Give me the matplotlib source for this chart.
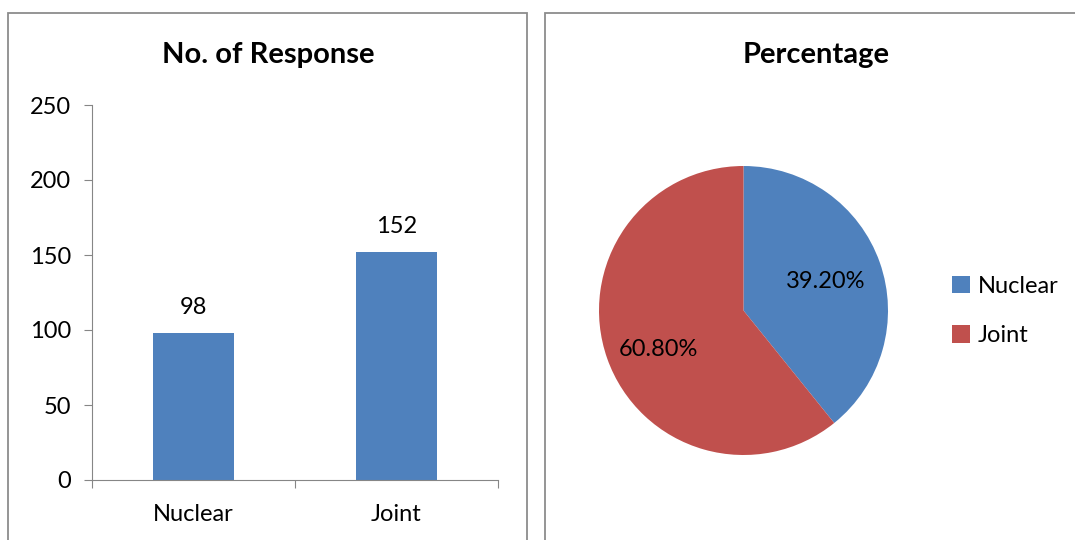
import matplotlib

matplotlib.use("Agg")
import matplotlib.pyplot as plt  # noqa: E402
from matplotlib.patches import Rectangle  # noqa: E402

plt.rcParams["font.family"] = ["Lato", "DejaVu Sans"]

categories = ["Nuclear", "Joint"]
responses = [98, 152]
percentages = [39.20, 60.80]
y_ticks = [0, 50, 100, 150, 200, 250]

BLUE = "#4F81BD"
RED = "#C0504D"
AXIS_GREY = "#868686"
FRAME_GREY = "#8C8C8C"

W, H = 1075, 540
fig = plt.figure(figsize=(W / 100, H / 100), dpi=100)


def px_box(x0, y0, x1, y1):
    """Pixel box (top-left origin) -> figure fraction [left, bottom, width, height]."""
    return [x0 / W, 1 - y1 / H, (x1 - x0) / W, (y1 - y0) / H]


# chart frames, both run past the bottom edge
for x0, x1 in [(8, 527), (545, 1090)]:
    fig.patches.append(Rectangle((x0 / W, -0.1), (x1 - x0) / W, 1.1 - 13 / H,
                                 transform=fig.transFigure, fill=False,
                                 edgecolor=FRAME_GREY, linewidth=1.3))

# bar chart
ax = fig.add_axes(px_box(92, 105, 498, 480))
x = range(len(categories))
ax.bar(x, responses, width=0.4, color=BLUE)
ax.set_xlim(-0.5, len(categories) - 0.5)
ax.set_ylim(0, 250)
ax.set_yticks(y_ticks)
ax.set_xticks([-0.5, 0.5, 1.5], minor=False)
ax.set_xticklabels([])
ax.set_xticks(list(x), minor=True)
ax.set_xticklabels(categories, minor=True)
ax.tick_params(axis="x", which="minor", length=0, pad=17, labelsize=17)
ax.tick_params(axis="x", which="major", length=6, direction="out", color=AXIS_GREY)
ax.tick_params(axis="y", length=6, direction="out", color=AXIS_GREY, labelsize=17, pad=9)
for side in ["top", "right"]:
    ax.spines[side].set_visible(False)
for side in ["left", "bottom"]:
    ax.spines[side].set_color(AXIS_GREY)
for i, v in enumerate(responses):
    ax.text(i, v + 10, str(v), ha="center", va="bottom", fontsize=17)
fig.text(268 / W, 1 - 55 / H, "No. of Response", ha="center", va="center",
         fontsize=21, fontweight="bold")

# pie chart
pax = fig.add_axes(px_box(599, 166, 888, 455))
wedges, _ = pax.pie(percentages, colors=[BLUE, RED], startangle=90,
                    counterclock=False, radius=1)
pax.set_aspect("equal")
pax.set_xlim(-1, 1)
pax.set_ylim(-1, 1)
pax.text(0.57, 0.2, f"{percentages[0]:.2f}%", ha="center", va="center", fontsize=17)
pax.text(-0.59, -0.27, f"{percentages[1]:.2f}%", ha="center", va="center", fontsize=17)
fig.text(816 / W, 1 - 55 / H, "Percentage", ha="center", va="center",
         fontsize=21, fontweight="bold")

fig.legend(wedges, categories, loc="center left",
           bbox_to_anchor=(952 / W, 1 - 311 / H), frameon=False, borderpad=0,
           borderaxespad=0, fontsize=17, handlelength=0.75, handleheight=0.75,
           handletextpad=0.35, labelspacing=1.2)

fig.savefig("out.png", dpi=100)
